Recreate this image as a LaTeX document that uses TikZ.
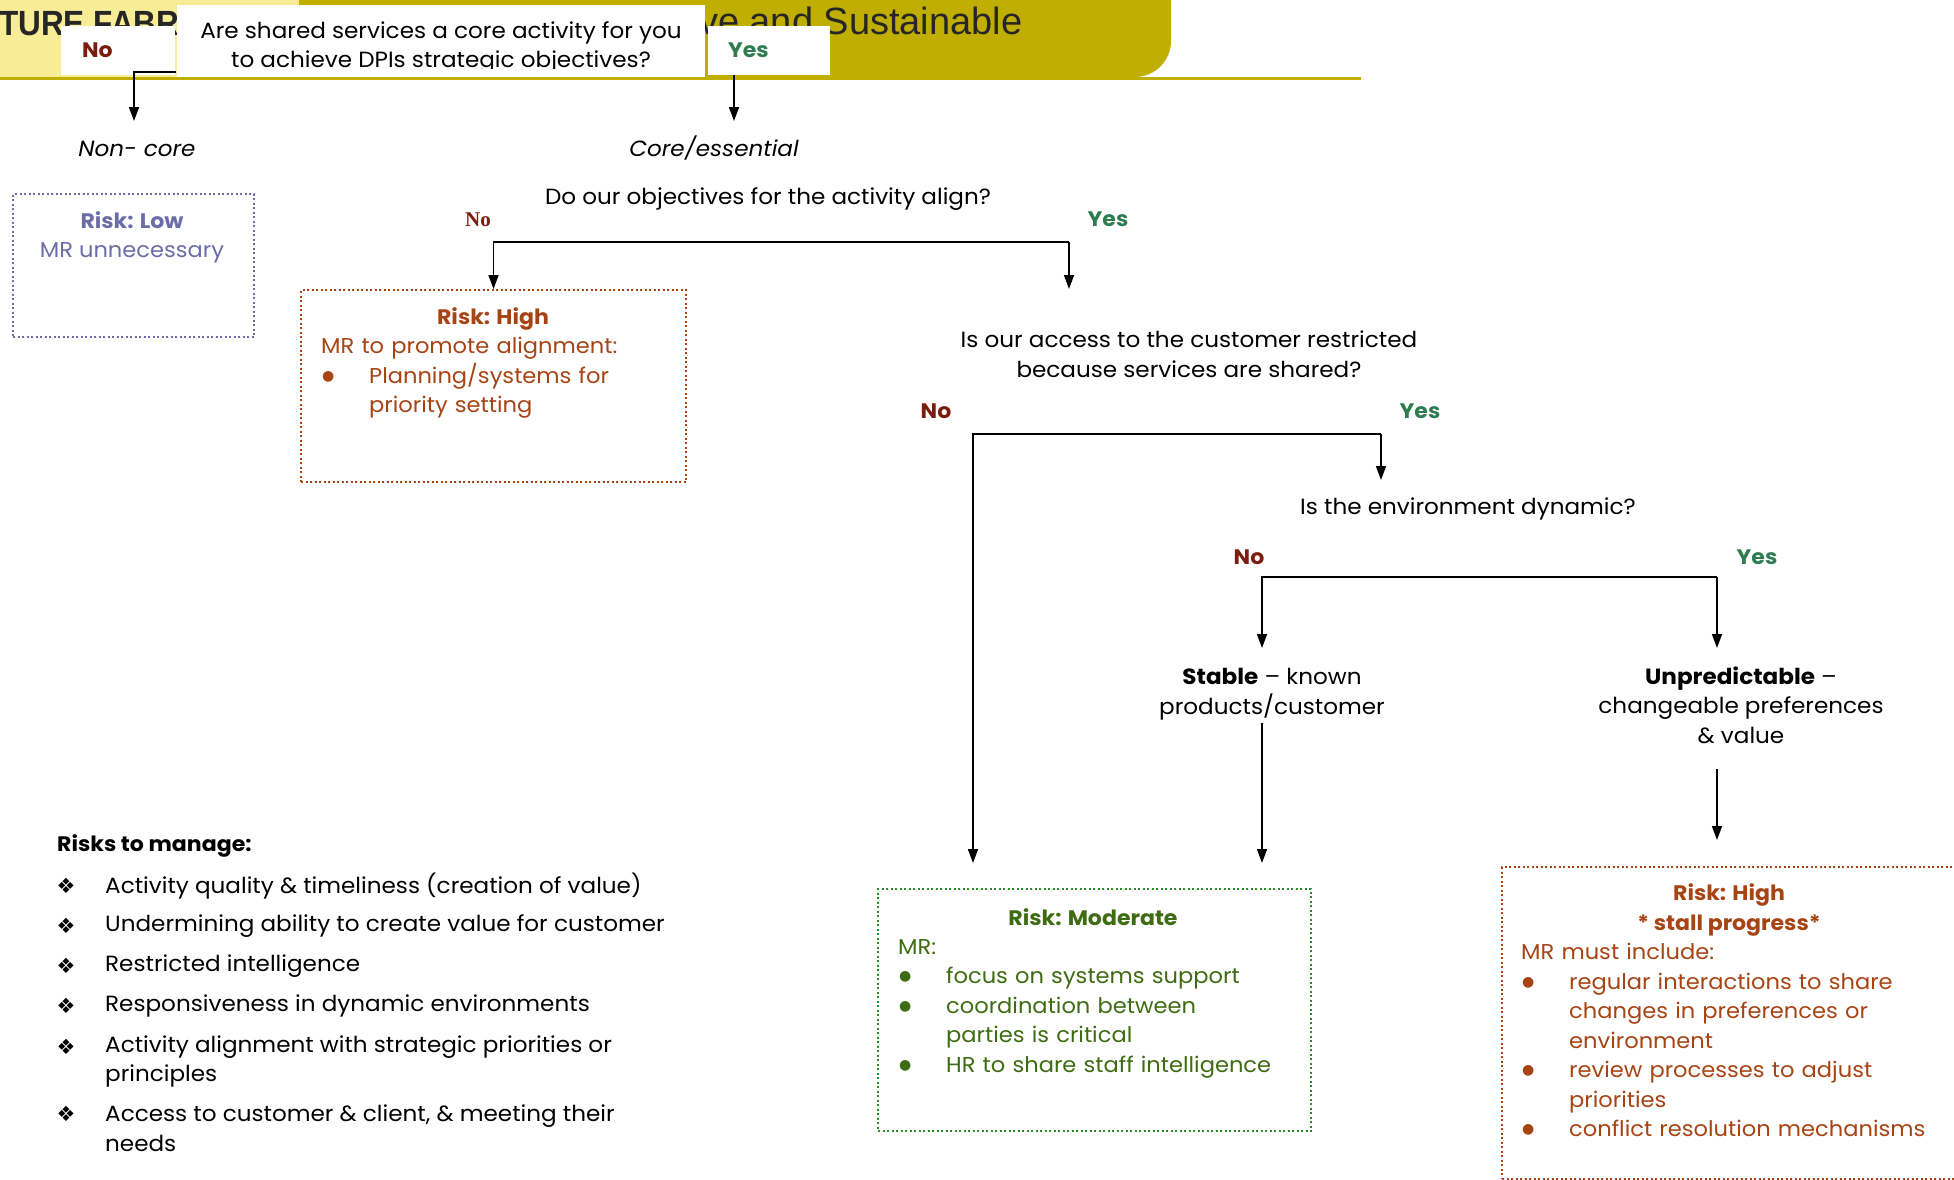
\documentclass[tikz,border=0pt]{standalone}
\usepackage{fontspec}
\setmainfont{Poppins}[FakeStretch=1.05]
\newfontfamily\serifno{Liberation Serif}
\newfontfamily\symfont{DejaVu Sans}
\newfontfamily\headfont{Liberation Sans}
\newfontfamily\headbold[FakeStretch=0.9]{Liberation Sans}
\usetikzlibrary{positioning, arrows.meta, calc}

\definecolor{noRed}{RGB}{122,28,14}
\definecolor{yesGreen}{RGB}{46,125,80}
\definecolor{highRed}{RGB}{166,68,20}
\definecolor{lowBlue}{RGB}{108,108,168}
\definecolor{modGreen}{RGB}{62,108,18}
\definecolor{modLine}{RGB}{40,140,40}
\definecolor{bannerOlive}{RGB}{192,174,0}
\definecolor{bannerPale}{RGB}{248,236,150}

\newcommand{\bodyfont}{\fontsize{22}{29.5}\selectfont}
\newcommand{\tagfont}{\fontsize{21}{29}\selectfont\bfseries}
\newcommand{\mritem}[1]{\par\hangindent=48pt\hangafter=1\noindent\makebox[48pt][l]{\hspace{1pt}\raisebox{3pt}{\symfont\fontsize{14}{14}\selectfont ●}}#1\par}

\tikzset{
  body/.style={inner sep=0pt, font=\bodyfont, yshift=-3pt},
  ask/.style={body, align=center},
  notag/.style={body, font=\tagfont, text=noRed},
  yestag/.style={body, font=\tagfont, text=yesGreen},
  whitebox/.style={fill=white, inner sep=0pt, font=\tagfont, align=left},
  riskbox/.style={draw, line width=2pt, dash pattern=on 2pt off 2.5pt, anchor=north west, inner sep=0pt},
  boxhead/.style={body, font=\fontsize{21}{29.5}\selectfont\bfseries, align=center},
  boxlist/.style={body, font=\fontsize{21.5}{29.5}\selectfont, align=left, anchor=north west},
  link/.style={line width=1.6pt, -{Triangle[length=14pt,width=10pt]}},
  risktxt/.style={body, align=left, anchor=west},
  diam/.style={inner sep=0pt, yshift=-3pt, font=\symfont\fontsize{21}{21}\selectfont}
}

\begin{document}
\begin{tikzpicture}[x=1pt, y=-1pt]
  \useasboundingbox (0,0) rectangle (1954,1179);
  \clip (0,0) rectangle (1954,1179);

  % header banner (cut off slide title)
  \fill[bannerOlive, rounded corners=36pt] (250,-80) rectangle (1171,77);
  \fill[bannerPale] (0,0) rectangle (299,77);
  \draw[bannerOlive, line width=2.5pt] (0,78.5) -- (1361,78.5);
  \node[anchor=base west, inner sep=0pt, font=\headbold\bfseries\fontsize{35}{35}\selectfont, text=black!85] (hdl) at (-1,35) {TURE FABR};
  \node[anchor=base west, inner sep=0pt, font=\headfont\fontsize{38}{38}\selectfont, text=black!85] (hdr) at (699,34) {ve and Sustainable};

  % first question
  \node[whitebox, text=noRed, minimum width=114pt, minimum height=49pt, text width=72pt, inner xsep=21pt] (no1) at (118,50.5) {No};
  \node[whitebox, text=yesGreen, minimum width=122pt, minimum height=49pt, text width=82pt, inner xsep=20pt] (yes1) at (769,50.5) {Yes};
  \node[whitebox, minimum width=528pt, minimum height=72pt] (q1) at (441,41) {};
  \begin{scope}
    \clip (q1.north west) rectangle (705,68);
    \node[ask] (q1txt) at (441,44.5) {Are shared services a core activity for you\\to achieve DPIs strategic objectives?};
  \end{scope}

  \node[body, font=\bodyfont\itshape] (noncore) at (137,146) {Non- core};
  \node[body, font=\bodyfont\itshape] (core) at (714,145.5) {Core/essential};

  \coordinate (no1out) at (176,72);
  \coordinate (noncoreIn) at (134,121);
  \coordinate (yes1out) at (734,75);
  \coordinate (coreIn) at (734,121);
  \draw[link] (no1out) -| (noncoreIn);
  \draw[link] (yes1out) -- (coreIn);

  % low risk
  \node[riskbox, draw=lowBlue, minimum width=241pt, minimum height=143pt] (low) at (12,193) {};
  \node[boxhead, text=lowBlue] (lowhead) at (132,217) {Risk: Low};
  \node[body, font=\fontsize{21.5}{29.5}\selectfont, text=lowBlue] (lowtxt) at (132,250) {MR unnecessary};

  % objectives aligned?
  \node[ask] (q2) at (768,196) {Do our objectives for the activity align?};
  \node[notag, font=\serifno\bfseries\fontsize{21}{24}\selectfont] (no2) at (478,217) {No};
  \node[yestag] (yes2) at (1108,216) {Yes};

  \node[riskbox, draw=highRed, minimum width=385pt, minimum height=192pt] (high1) at (300,289) {};
  \node[boxhead, text=highRed] (high1head) at (493,316) {Risk: High};
  \node[boxlist, text=highRed, text width=355pt] (high1list) at (321,334) {MR to promote alignment:\mritem{Planning/systems for\newline priority setting}};

  \coordinate (j2) at (1069,242);
  \coordinate (q3In) at (1069,289);
  \draw[link] (j2) -| (high1.north);
  \draw[link] (j2) -- (q3In);

  % access restricted?
  \node[ask] (q3) at (1189,351) {Is our access to the customer restricted\\because services are shared?};
  \node[notag] (no3) at (936,408) {No};
  \node[yestag] (yes3) at (1420,408) {Yes};

  \coordinate (j3) at (1381,434);
  \coordinate (modIn1) at (973,863);
  \coordinate (q4In) at (1381,480);
  \draw[link] (j3) -| (modIn1);
  \draw[link] (j3) -- (q4In);

  % dynamic environment?
  \node[ask] (q4) at (1468,506) {Is the environment dynamic?};
  \node[notag] (no4) at (1249,554) {No};
  \node[yestag] (yes4) at (1757,554) {Yes};

  \coordinate (j4) at (1717,577);
  \coordinate (stableIn) at (1262,648);
  \coordinate (unpIn) at (1717,648);
  \draw[link] (j4) -| (stableIn);
  \draw[link] (j4) -- (unpIn);

  \node[ask] (stable) at (1272,691) {\textbf{Stable} – known\\products/customer};
  \node[ask] (unp) at (1741,702) {\textbf{Unpredictable} –\\changeable preferences\\\& value};

  \coordinate (stableOut) at (1262,723);
  \coordinate (modIn2) at (1262,863);
  \coordinate (unpOut) at (1717,769);
  \coordinate (high2In) at (1717,840);
  \draw[link] (stableOut) -- (modIn2);
  \draw[link] (unpOut) -- (high2In);

  % moderate risk
  \node[riskbox, draw=modLine, minimum width=433pt, minimum height=242pt] (mod) at (877,888) {};
  \node[boxhead, text=modGreen] (modhead) at (1093,914) {Risk: Moderate};
  \node[boxlist, text=modGreen, text width=400pt] (modlist) at (898,936) {MR:\mritem{focus on systems support}\mritem{coordination between\newline parties is critical}\mritem{HR to share staff intelligence}};

  % high risk, unpredictable
  \node[riskbox, draw=highRed, minimum width=456pt, minimum height=312pt] (high2) at (1501,866) {};
  \node[boxhead, text=highRed] (high2head) at (1729,907) {Risk: High\\* stall progress*};
  \node[boxlist, text=highRed, text width=420pt] (high2list) at (1521,940) {MR must include:\mritem{regular interactions to share\newline changes in preferences or\newline environment}\mritem{review processes to adjust\newline priorities}\mritem{conflict resolution mechanisms}};

  % risks list
  \node[body, font=\fontsize{21}{29}\selectfont\bfseries, anchor=west] (risks) at (57,843) {Risks to manage:};
  \foreach \yy/\by/\txt [count=\k] in {883/883/{Activity quality \& timeliness (creation of value)}, 923/923/{Undermining ability to create value for customer}, 963/963/{Restricted intelligence}, 1003/1003/{Responsiveness in dynamic environments}, 1058.5/1044/{Activity alignment with strategic priorities or\\principles}, 1125/1111/{Access to customer \& client, \& meeting their\\needs}} {
    \node[risktxt] (risk\k) at (105,\yy) {\txt};
    \node[diam] (dia\k) at (66,\by) {❖};
  }
\end{tikzpicture}
\end{document}
